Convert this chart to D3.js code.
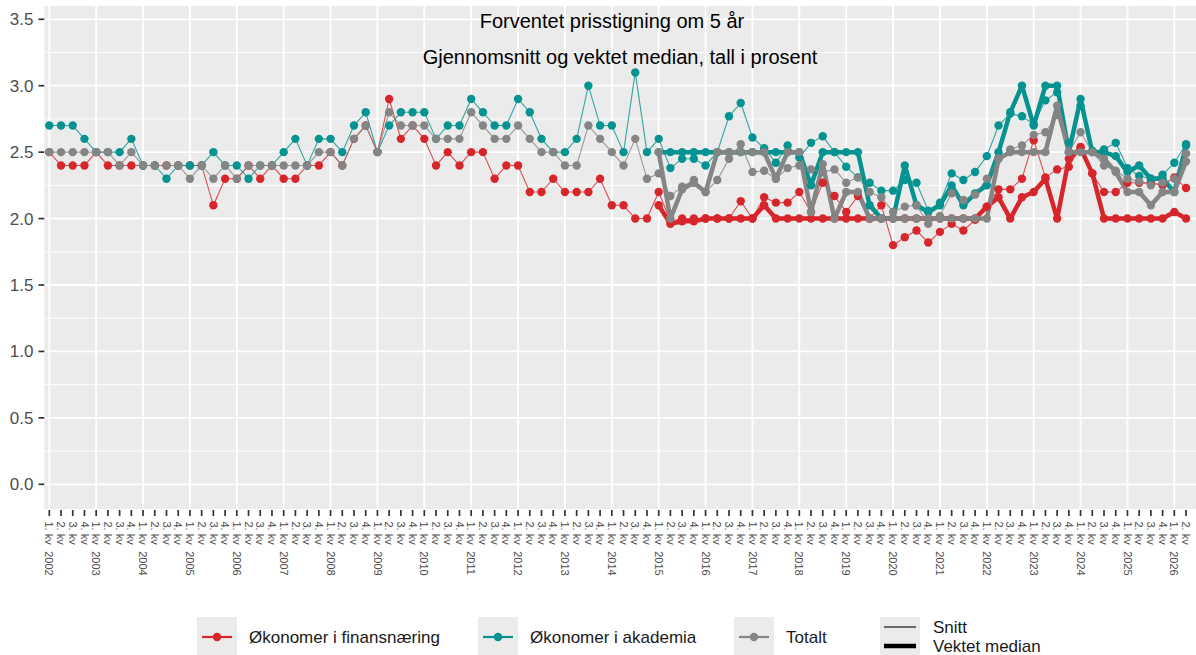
<!DOCTYPE html>
<html>
<head>
<meta charset="utf-8">
<script src="https://cdn.jsdelivr.net/npm/d3@7/dist/d3.min.js"></script>
<style>
  body { margin: 0; background: #fff; }
  text { font-family: "Liberation Sans", Arial, Helvetica, sans-serif; }
</style>
</head>
<body>
<div id="chart"></div>
<script>
// categories: quarters 2002 Q1 .. 2026 Q2
var years = [2002, 2003, 2004, 2005, 2006, 2007, 2008, 2009, 2010, 2011, 2012, 2013,
             2014, 2015, 2016, 2017, 2018, 2019, 2020, 2021, 2022, 2023, 2024, 2025, 2026];
var quarterNames = ["1. kv", "2. kv", "3. kv", "4. kv"];
var quartersInLastYear = 2;
var medianStartYear = 2015;

var yTicks = [0, 0.5, 1, 1.5, 2, 2.5, 3, 3.5];

// Snitt (average), every quarter
var finansSnitt = [
  2.5, 2.4, 2.4, 2.4, 2.5, 2.4, 2.4, 2.4, 2.4, 2.4,
  2.4, 2.4, 2.4, 2.4, 2.1, 2.3, 2.3, 2.4, 2.3, 2.4,
  2.3, 2.3, 2.4, 2.4, 2.5, 2.4, 2.6, 2.7, 2.5, 2.9,
  2.6, 2.7, 2.6, 2.4, 2.5, 2.4, 2.5, 2.5, 2.3, 2.4,
  2.4, 2.2, 2.2, 2.3, 2.2, 2.2, 2.2, 2.3, 2.1, 2.1,
  2.0, 2.0, 2.2, 1.98, 2.0, 2.0, 2.0, 2.0, 2.0, 2.13,
  2.0, 2.16, 2.12, 2.12, 2.2, 2.05, 2.27, 2.17, 2.05, 2.17,
  2.0, 2.1, 1.8, 1.86, 1.91, 1.82, 1.9, 1.96, 1.91, 1.99,
  2.09, 2.22, 2.22, 2.3, 2.59, 2.31, 2.37, 2.39, 2.54, 2.34,
  2.2, 2.2, 2.27, 2.27, 2.27, 2.25, 2.31, 2.23
];
var akademiaSnitt = [
  2.7, 2.7, 2.7, 2.6, 2.5, 2.5, 2.5, 2.6, 2.4, 2.4,
  2.3, 2.4, 2.4, 2.4, 2.5, 2.4, 2.4, 2.3, 2.4, 2.4,
  2.5, 2.6, 2.4, 2.6, 2.6, 2.5, 2.7, 2.8, 2.5, 2.7,
  2.8, 2.8, 2.8, 2.6, 2.7, 2.7, 2.9, 2.8, 2.7, 2.7,
  2.9, 2.8, 2.6, 2.5, 2.5, 2.6, 3.0, 2.7, 2.7, 2.5,
  3.1, 2.5, 2.6, 2.38, 2.45, 2.45, 2.4, 2.5, 2.77, 2.87,
  2.61, 2.53, 2.42, 2.55, 2.46, 2.57, 2.62, 2.5, 2.39, 2.31,
  2.27, 2.21, 2.21, 2.29, 2.27, 2.06, 2.12, 2.34, 2.29, 2.35,
  2.47, 2.7, 2.79, 2.77, 2.71, 2.89, 2.95, 2.57, 2.85, 2.51,
  2.52, 2.57, 2.38, 2.32, 2.3, 2.33, 2.42, 2.56
];
var totaltSnitt = [
  2.5, 2.5, 2.5, 2.5, 2.5, 2.5, 2.4, 2.5, 2.4, 2.4,
  2.4, 2.4, 2.3, 2.4, 2.3, 2.4, 2.3, 2.4, 2.4, 2.4,
  2.4, 2.4, 2.4, 2.5, 2.5, 2.4, 2.6, 2.7, 2.5, 2.8,
  2.7, 2.7, 2.7, 2.6, 2.6, 2.6, 2.8, 2.7, 2.6, 2.6,
  2.7, 2.6, 2.5, 2.5, 2.4, 2.4, 2.7, 2.6, 2.5, 2.4,
  2.6, 2.3, 2.34, 2.17, 2.24, 2.29, 2.2, 2.29, 2.45, 2.56,
  2.35, 2.36, 2.3, 2.38, 2.4, 2.37, 2.35, 2.37, 2.27, 2.31,
  2.2, 2.16, 2.05, 2.09, 2.1, 1.96, 2.02, 2.19, 2.14, 2.18,
  2.3, 2.45, 2.52, 2.55, 2.63, 2.65, 2.78, 2.5, 2.65, 2.5,
  2.4, 2.36, 2.3, 2.28, 2.25, 2.27, 2.3, 2.49
];

// Vektet median, from 1. kv 2015
var finansMedian = [
  2.1, 1.96, 1.98, 1.98, 2.0, 2.0, 2.0, 2.0, 2.0, 2.1,
  2.0, 2.0, 2.0, 2.0, 2.0, 2.0, 2.0, 2.0, 2.0, 2.0,
  2.0, 2.0, 2.0, 2.0, 2.0, 2.0, 2.0, 2.0,
  2.09, 2.16, 2.0, 2.16, 2.2, 2.3, 2.0, 2.45, 2.53, 2.34,
  2.0, 2.0, 2.0, 2.0, 2.0, 2.0, 2.05, 2.0
];
var akademiaMedian = [
  2.5, 2.5, 2.5, 2.5, 2.5, 2.5, 2.5, 2.5, 2.5, 2.5, 2.5, 2.5, 2.5,
  2.25, 2.5, 2.5, 2.5, 2.5,
  2.1, 2.0, 2.0, 2.4, 2.1, 2.05, 2.1, 2.25, 2.1, 2.19,
  2.25, 2.5, 2.8, 3.0, 2.7, 3.0, 3.0, 2.5, 2.9, 2.5,
  2.5, 2.47, 2.35, 2.4, 2.3, 2.3, 2.2, 2.55
];
var totaltMedian = [
  2.5, 2.0, 2.22, 2.27, 2.2, 2.5, 2.5, 2.5, 2.5, 2.5,
  2.3, 2.5, 2.5, 2.05, 2.41, 2.0, 2.2, 2.2,
  2.0, 2.0, 2.0, 2.0, 2.0, 2.0, 2.0, 2.0, 2.0, 2.0, 2.0,
  2.45, 2.5, 2.5, 2.5, 2.5, 2.85, 2.5, 2.5, 2.5,
  2.45, 2.35, 2.2, 2.2, 2.1, 2.2, 2.2, 2.43
];

var seriesNames = ["Økonomer i finansnæring", "Økonomer i akademia", "Totalt"];
var seriesColors = ["#d7262b", "#049390", "#858585"];

// build quarter list
var quarters = [];
years.forEach(function(yr, yi) {
    var n = (yi == years.length - 1) ? quartersInLastYear : 4;
    for (var q = 0; q < n; q++) quarters.push({year: yr, q: q, label: quarterNames[q]});
});
var medianStart = quarters.findIndex(function(d) { return d.year == medianStartYear && d.q == 0; });

var series = [
    {name: seriesNames[0], color: seriesColors[0], snitt: finansSnitt, median: finansMedian},
    {name: seriesNames[1], color: seriesColors[1], snitt: akademiaSnitt, median: akademiaMedian},
    {name: seriesNames[2], color: seriesColors[2], snitt: totaltSnitt, median: totaltMedian}
];

var W = 1196, H = 655;
var panel = {left: 44.3, top: 6, right: 1196, bottom: 509};

var svg = d3.select("#chart").append("svg")
    .attr("width", W).attr("height", H)
    .style("display", "block");

var x = d3.scaleLinear().domain([-0.427, quarters.length - 1 + 0.85]).range([panel.left, panel.right]);
var y = d3.scaleLinear().domain([-0.186, 3.6]).range([panel.bottom, panel.top]);

// panel background
svg.append("rect")
    .attr("x", panel.left).attr("y", panel.top)
    .attr("width", panel.right - panel.left).attr("height", panel.bottom - panel.top)
    .attr("fill", "#ebebeb");

//minor horizontal grid
var minor = d3.range(0.25, 3.6, 0.5);
svg.selectAll(".minor").data(minor).enter().append("line")
    .attr("x1", panel.left).attr("x2", panel.right)
    .attr("y1", function(d) { return y(d); }).attr("y2", function(d) { return y(d); })
    .attr("stroke", "#fff").attr("stroke-width", 0.9);

svg.selectAll(".major").data(yTicks).enter().append("line")
    .attr("x1", panel.left).attr("x2", panel.right)
    .attr("y1", function(d) { return y(d); }).attr("y2", function(d) { return y(d); })
    .attr("stroke", "#fff").attr("stroke-width", 1.8);

// vertical grid at each year
var yearIdx = quarters.map(function(d, i) { return i; }).filter(function(i) { return quarters[i].q == 0; });
svg.selectAll(".vgrid").data(yearIdx).enter().append("line")
    .attr("x1", function(d) { return x(d); }).attr("x2", function(d) { return x(d); })
    .attr("y1", panel.top).attr("y2", panel.bottom)
    .attr("stroke", "#fff").attr("stroke-width", 1.8);

// title
svg.append("text").attr("x", 612).attr("y", 28).attr("text-anchor", "middle")
    .style("font-size", "20px").attr("fill", "#000").text("Forventet prisstigning om 5 år");
svg.append("text").attr("x", 620).attr("y", 64).attr("text-anchor", "middle")
    .style("font-size", "20px").attr("fill", "#000").text("Gjennomsnitt og vektet median, tall i prosent");

// y axis
var yAxis = svg.append("g");
yTicks.forEach(function(t) {
    yAxis.append("line").attr("x1", 38.5).attr("x2", panel.left)
        .attr("y1", y(t)).attr("y2", y(t)).attr("stroke", "#333").attr("stroke-width", 1.7);
    yAxis.append("text").attr("x", 33.5).attr("y", y(t)).attr("dy", "0.35em")
        .attr("text-anchor", "end").style("font-size", "17px").attr("fill", "#4d4d4d")
        .text(d3.format(".1f")(t));
});

// x axis
var xAxis = svg.append("g");
quarters.forEach(function(d, i) {
    xAxis.append("line").attr("x1", x(i)).attr("x2", x(i))
        .attr("y1", panel.bottom + 1).attr("y2", panel.bottom + 7)
        .attr("stroke", "#333").attr("stroke-width", 1.7);
    var t = xAxis.append("text")
        .attr("transform", "translate(" + x(i) + "," + (panel.bottom + 12.5) + ") rotate(90)")
        .attr("dy", "0.35em")
        .style("font-size", "11px").attr("fill", "#4d4d4d");
    t.append("tspan").text(d.label);
    if (d.q == 0) t.append("tspan").attr("dx", 6.5).text(d.year);
});

// lines
var line = d3.line()
    .x(function(d) { return x(d.i); })
    .y(function(d) { return y(d.v); });

function toPts(arr, offset) {
    return arr.map(function(v, k) { return {i: k + offset, v: v}; });
}

series.forEach(function(s) {
    svg.append("path").datum(toPts(s.snitt, 0))
        .attr("d", line).attr("fill", "none")
        .attr("stroke", s.color).attr("stroke-width", 1.1).attr("stroke-opacity", 0.8);
    svg.append("path").datum(toPts(s.median, medianStart))
        .attr("d", line).attr("fill", "none")
        .attr("stroke", s.color).attr("stroke-width", 4.5)
        .attr("stroke-linejoin", "round");
});

series.forEach(function(s) {
    var pts = toPts(s.snitt, 0).concat(toPts(s.median, medianStart));
    svg.append("g").selectAll("circle").data(pts).enter().append("circle")
        .attr("cx", function(d) { return x(d.i); })
        .attr("cy", function(d) { return y(d.v); })
        .attr("r", 4.2)
        .attr("fill", s.color);
});

// legend
var legendKeys = [197, 478, 734];
var keyW = 40, keyTop = 617, keyH = 40;
series.forEach(function(s, k) {
    var kx = legendKeys[k];
    var g = svg.append("g");
    g.append("rect").attr("x", kx).attr("y", keyTop).attr("width", keyW).attr("height", keyH)
        .attr("fill", "#ebebeb");
    g.append("line").attr("x1", kx + 5).attr("x2", kx + keyW - 5)
        .attr("y1", 637).attr("y2", 637).attr("stroke", s.color).attr("stroke-width", 2.2);
    g.append("circle").attr("cx", kx + keyW / 2).attr("cy", 637).attr("r", 4.2).attr("fill", s.color);
    g.append("text").attr("x", kx + keyW + 12).attr("y", 637).attr("dy", "0.35em")
        .style("font-size", "17px").attr("fill", "#1a1a1a").text(s.name);
});

var typeNames = ["Snitt", "Vektet median"];
var typeWidths = [1.1, 4.5];
var k4x = 880;
svg.append("rect").attr("x", k4x).attr("y", keyTop).attr("width", keyW).attr("height", keyH)
    .attr("fill", "#ebebeb");
typeNames.forEach(function(n, k) {
    var ly = 627 + k * 19;
    svg.append("line").attr("x1", k4x + 4).attr("x2", k4x + keyW - 4)
        .attr("y1", ly).attr("y2", ly).attr("stroke", "#000").attr("stroke-width", typeWidths[k]);
    svg.append("text").attr("x", k4x + keyW + 13).attr("y", ly).attr("dy", "0.35em")
        .style("font-size", "17px").attr("fill", "#1a1a1a").text(n);
});
</script>
</body>
</html>
